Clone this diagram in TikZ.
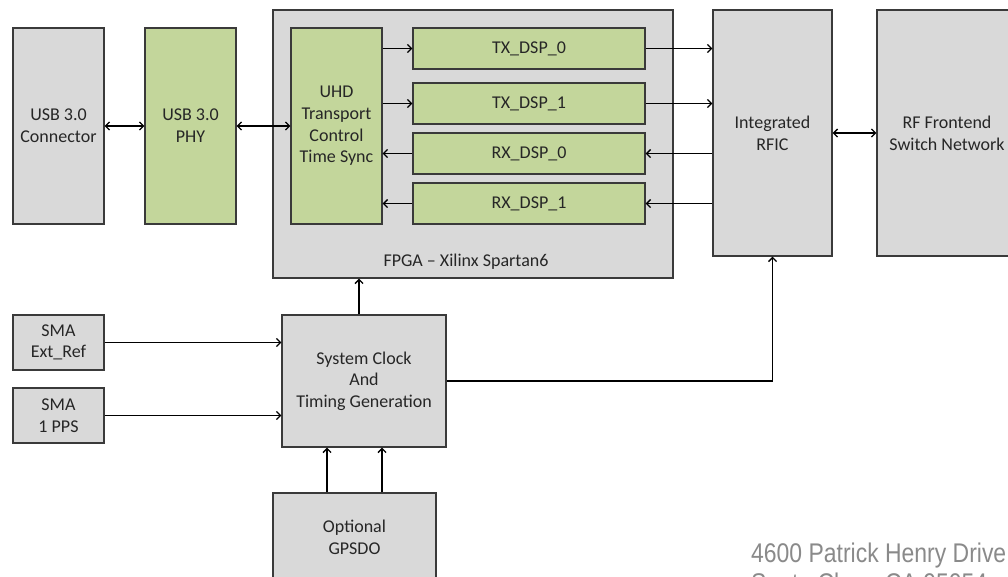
\documentclass[tikz,border=0pt]{standalone}
\usepackage{fontspec}
\setmainfont{Carlito}
\newfontfamily\addrfont[FakeStretch=0.85]{Liberation Sans}
\usetikzlibrary{arrows.meta}
\definecolor{boxgray}{HTML}{D9D9D9}
\definecolor{boxgreen}{HTML}{C3D69B}
\definecolor{edge}{HTML}{3A3A3A}
\definecolor{txt}{HTML}{262626}
\definecolor{addr}{HTML}{8A8A8A}
\tikzset{
  blk/.style={draw=edge, line width=1.3pt, rectangle, inner sep=0pt, align=center,
              text=txt, font=\fontsize{18}{21.7}\selectfont},
  graybox/.style={blk, fill=boxgray},
  greenbox/.style={blk, fill=boxgreen},
  arr/.style={draw=black, line width=1.3pt, -{Straight Barb[length=4pt,width=8pt]}},
  biarr/.style={draw=black, line width=1.3pt, {Straight Barb[length=4pt,width=8pt]}-{Straight Barb[length=4pt,width=8pt]}},
}
\begin{document}
\begin{tikzpicture}[x=1pt,y=-1pt]
\useasboundingbox (0,0) rectangle (1008,576);
\clip (0,0) rectangle (1008,576);
\fill[white] (0,0) rectangle (1008,576);

% FPGA container
\node[graybox, minimum width=400, minimum height=268] (fpga) at (473,144) {};
\node[text=txt, font=\fontsize{18}{21.7}\selectfont] (fpgalbl) at (466,262) {FPGA -- Xilinx Spartan6};

\node[graybox, minimum width=91, minimum height=196] (usbc) at (58.5,126) {USB 3.0\\Connector};
\node[greenbox, minimum width=91, minimum height=196] (phy) at (190.5,126) {USB 3.0\\PHY};
\node[greenbox, minimum width=91, minimum height=196] (uhd) at (336.5,126) {UHD\\Transport\\Control\\Time Sync};

\node[greenbox, minimum width=232, minimum height=41] (tx0) at (529,48.5) {TX\_DSP\_0};
\node[greenbox, minimum width=232, minimum height=41] (tx1) at (529,103.5) {TX\_DSP\_1};
\node[greenbox, minimum width=232, minimum height=41] (rx0) at (529,153.5) {RX\_DSP\_0};
\node[greenbox, minimum width=232, minimum height=41] (rx1) at (529,203.5) {RX\_DSP\_1};

\node[graybox, minimum width=119, minimum height=246] (rfic) at (772.5,133) {Integrated\\RFIC};
\node[graybox, minimum width=140, minimum height=246] (rf) at (947,133) {RF Frontend\\Switch Network};

\node[graybox, minimum width=91, minimum height=55] (smaext) at (58.5,342.5) {SMA\\Ext\_Ref};
\node[graybox, minimum width=91, minimum height=55] (smapps) at (58.5,415.5) {SMA\\1 PPS};
\node[graybox, minimum width=164, minimum height=132] (sysclk) at (364,381) {System Clock\\And\\Timing Generation};
\node[graybox, minimum width=163, minimum height=88] (gpsdo) at (354.5,537) {Optional\\GPSDO};

% connectors
\draw[biarr] (usbc.east) -- (phy.west);
\draw[biarr] (phy.east) -- (uhd.west);
\draw[arr] (uhd.east |- tx0.west) -- (tx0.west);
\draw[arr] (uhd.east |- tx1.west) -- (tx1.west);
\draw[arr] (rx0.west) -- (uhd.east |- rx0.west);
\draw[arr] (rx1.west) -- (uhd.east |- rx1.west);
\draw[arr] (tx0.east) -- (rfic.west |- tx0.east);
\draw[arr] (tx1.east) -- (rfic.west |- tx1.east);
\draw[arr] (rfic.west |- rx0.east) -- (rx0.east);
\draw[arr] (rfic.west |- rx1.east) -- (rx1.east);
\draw[biarr] (rfic.east) -- (rf.west);

\draw[arr] ([xshift=-5pt]sysclk.north) -- ([xshift=-5pt]sysclk.north |- fpga.south);
\draw[arr] (smaext.east) -- (sysclk.west |- smaext.east);
\draw[arr] (smapps.east) -- (sysclk.west |- smapps.east);
\draw[arr] ([xshift=-27.5pt]gpsdo.north) -- ([xshift=-27.5pt]gpsdo.north |- sysclk.south);
\draw[arr] ([xshift=27.5pt]gpsdo.north) -- ([xshift=27.5pt]gpsdo.north |- sysclk.south);
\draw[arr] (sysclk.east) -| (rfic.south);

% address
\node[anchor=base west, inner sep=0pt, text=addr, font=\addrfont\fontsize{27}{30}\selectfont] (addr1) at (751,562) {4600 Patrick Henry Drive};
\node[anchor=base west, inner sep=0pt, text=addr, font=\addrfont\fontsize{27}{30}\selectfont] (addr2) at (751,592) {Santa Clara, CA 95054};
\end{tikzpicture}
\end{document}
